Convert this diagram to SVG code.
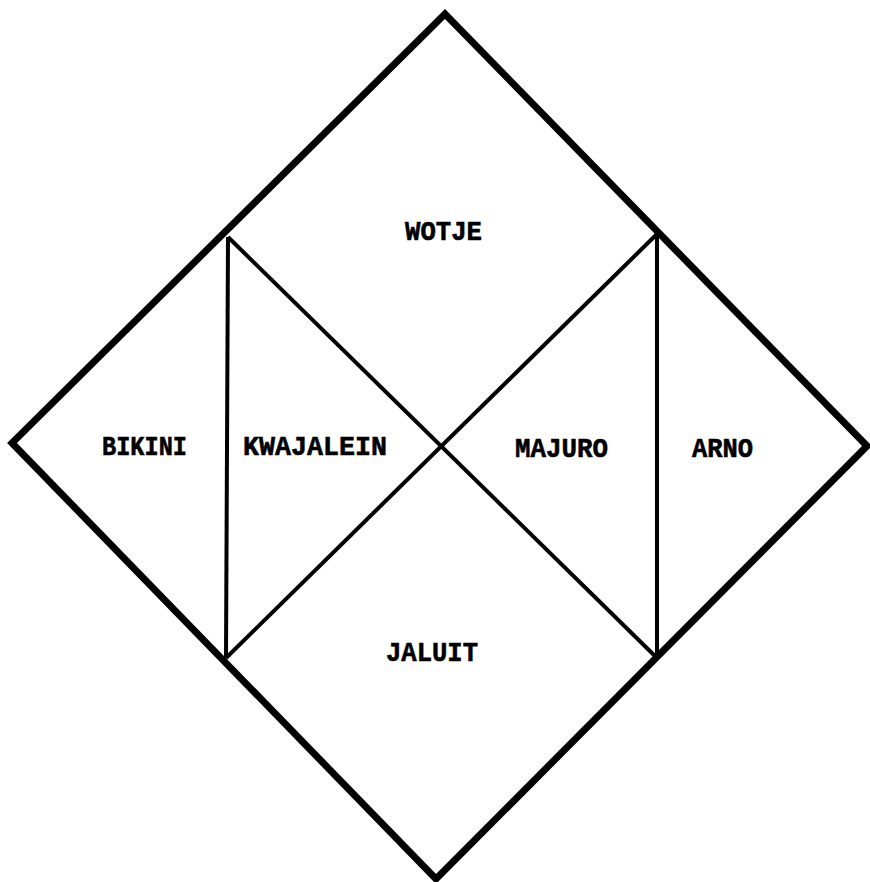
<svg xmlns="http://www.w3.org/2000/svg" width="870" height="882" viewBox="0 0 870 882">
<style>
.outer{fill:none;stroke:#000;stroke-width:7;stroke-linejoin:miter}
.inner{fill:none;stroke:#000;stroke-width:4}
.lbl{font-family:"Liberation Mono","Courier New",monospace;font-weight:bold;font-size:28px;fill:#000;stroke:#000;stroke-width:0.6}
</style>
<rect width="870" height="882" fill="#fff"/>
<g id="connectors">
<polygon class="outer" points="445,14 867,446 436,879 12,443"/>
<line class="inner" x1="228" y1="237" x2="226" y2="658"/>
<line class="inner" x1="657" y1="234" x2="657" y2="658"/>
<line class="inner" x1="228" y1="237" x2="657" y2="658"/>
<line class="inner" x1="657" y1="234" x2="226" y2="658"/>
</g>
<g id="wotje"><text class="lbl" x="405" y="240" textLength="77" lengthAdjust="spacingAndGlyphs">WOTJE</text></g>
<g id="bikini"><text class="lbl" x="102" y="455" textLength="85" lengthAdjust="spacingAndGlyphs">BIKINI</text></g>
<g id="kwajalein"><text class="lbl" x="243" y="455" textLength="144" lengthAdjust="spacingAndGlyphs">KWAJALEIN</text></g>
<g id="majuro"><text class="lbl" x="515" y="457" textLength="93" lengthAdjust="spacingAndGlyphs">MAJURO</text></g>
<g id="arno"><text class="lbl" x="692" y="457" textLength="61" lengthAdjust="spacingAndGlyphs">ARNO</text></g>
<g id="jaluit"><text class="lbl" x="386" y="661" textLength="92" lengthAdjust="spacingAndGlyphs">JALUIT</text></g>
</svg>
